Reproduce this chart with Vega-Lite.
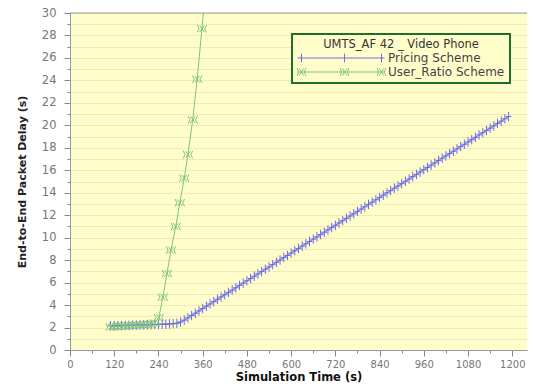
{
  "$schema": "https://vega.github.io/schema/vega-lite/v6.json",
  "width": 457,
  "height": 337,
  "autosize": "none",
  "padding": {"left": 70, "top": 13, "right": 6, "bottom": 37},
  "background": "white",
  "config": {"view": {"fill": "#FFFECB", "stroke": null}, "font": "DejaVu Sans"},
  "data": {"values": [
    {"t":110,"d":2.15,"s":"Pricing Scheme"},{"t":120,"d":2.16,"s":"Pricing Scheme"},{"t":130,"d":2.17,"s":"Pricing Scheme"},{"t":140,"d":2.18,"s":"Pricing Scheme"},{"t":150,"d":2.19,"s":"Pricing Scheme"},{"t":160,"d":2.2,"s":"Pricing Scheme"},{"t":170,"d":2.21,"s":"Pricing Scheme"},{"t":180,"d":2.22,"s":"Pricing Scheme"},{"t":190,"d":2.23,"s":"Pricing Scheme"},{"t":200,"d":2.24,"s":"Pricing Scheme"},{"t":210,"d":2.25,"s":"Pricing Scheme"},{"t":220,"d":2.26,"s":"Pricing Scheme"},{"t":230,"d":2.27,"s":"Pricing Scheme"},{"t":240,"d":2.28,"s":"Pricing Scheme"},{"t":250,"d":2.29,"s":"Pricing Scheme"},{"t":260,"d":2.3,"s":"Pricing Scheme"},{"t":270,"d":2.32,"s":"Pricing Scheme"},{"t":280,"d":2.34,"s":"Pricing Scheme"},{"t":290,"d":2.38,"s":"Pricing Scheme"},
    {"t":300,"d":2.5,"s":"Pricing Scheme"},{"t":310,"d":2.66,"s":"Pricing Scheme"},{"t":320,"d":2.86,"s":"Pricing Scheme"},{"t":330,"d":3.07,"s":"Pricing Scheme"},{"t":340,"d":3.27,"s":"Pricing Scheme"},{"t":350,"d":3.48,"s":"Pricing Scheme"},{"t":360,"d":3.69,"s":"Pricing Scheme"},{"t":370,"d":3.89,"s":"Pricing Scheme"},{"t":380,"d":4.1,"s":"Pricing Scheme"},{"t":390,"d":4.3,"s":"Pricing Scheme"},
    {"t":400,"d":4.51,"s":"Pricing Scheme"},{"t":410,"d":4.72,"s":"Pricing Scheme"},{"t":420,"d":4.92,"s":"Pricing Scheme"},{"t":430,"d":5.13,"s":"Pricing Scheme"},{"t":440,"d":5.33,"s":"Pricing Scheme"},{"t":450,"d":5.54,"s":"Pricing Scheme"},{"t":460,"d":5.75,"s":"Pricing Scheme"},{"t":470,"d":5.95,"s":"Pricing Scheme"},{"t":480,"d":6.16,"s":"Pricing Scheme"},{"t":490,"d":6.36,"s":"Pricing Scheme"},
    {"t":500,"d":6.57,"s":"Pricing Scheme"},{"t":510,"d":6.78,"s":"Pricing Scheme"},{"t":520,"d":6.98,"s":"Pricing Scheme"},{"t":530,"d":7.19,"s":"Pricing Scheme"},{"t":540,"d":7.39,"s":"Pricing Scheme"},{"t":550,"d":7.6,"s":"Pricing Scheme"},{"t":560,"d":7.81,"s":"Pricing Scheme"},{"t":570,"d":8.01,"s":"Pricing Scheme"},{"t":580,"d":8.22,"s":"Pricing Scheme"},{"t":590,"d":8.42,"s":"Pricing Scheme"},
    {"t":600,"d":8.63,"s":"Pricing Scheme"},{"t":610,"d":8.84,"s":"Pricing Scheme"},{"t":620,"d":9.04,"s":"Pricing Scheme"},{"t":630,"d":9.25,"s":"Pricing Scheme"},{"t":640,"d":9.45,"s":"Pricing Scheme"},{"t":650,"d":9.66,"s":"Pricing Scheme"},{"t":660,"d":9.87,"s":"Pricing Scheme"},{"t":670,"d":10.07,"s":"Pricing Scheme"},{"t":680,"d":10.28,"s":"Pricing Scheme"},{"t":690,"d":10.48,"s":"Pricing Scheme"},
    {"t":700,"d":10.69,"s":"Pricing Scheme"},{"t":710,"d":10.9,"s":"Pricing Scheme"},{"t":720,"d":11.1,"s":"Pricing Scheme"},{"t":730,"d":11.31,"s":"Pricing Scheme"},{"t":740,"d":11.51,"s":"Pricing Scheme"},{"t":750,"d":11.72,"s":"Pricing Scheme"},{"t":760,"d":11.93,"s":"Pricing Scheme"},{"t":770,"d":12.13,"s":"Pricing Scheme"},{"t":780,"d":12.34,"s":"Pricing Scheme"},{"t":790,"d":12.54,"s":"Pricing Scheme"},
    {"t":800,"d":12.75,"s":"Pricing Scheme"},{"t":810,"d":12.96,"s":"Pricing Scheme"},{"t":820,"d":13.16,"s":"Pricing Scheme"},{"t":830,"d":13.37,"s":"Pricing Scheme"},{"t":840,"d":13.57,"s":"Pricing Scheme"},{"t":850,"d":13.78,"s":"Pricing Scheme"},{"t":860,"d":13.99,"s":"Pricing Scheme"},{"t":870,"d":14.19,"s":"Pricing Scheme"},{"t":880,"d":14.4,"s":"Pricing Scheme"},{"t":890,"d":14.6,"s":"Pricing Scheme"},
    {"t":900,"d":14.81,"s":"Pricing Scheme"},{"t":910,"d":15.02,"s":"Pricing Scheme"},{"t":920,"d":15.22,"s":"Pricing Scheme"},{"t":930,"d":15.43,"s":"Pricing Scheme"},{"t":940,"d":15.63,"s":"Pricing Scheme"},{"t":950,"d":15.84,"s":"Pricing Scheme"},{"t":960,"d":16.05,"s":"Pricing Scheme"},{"t":970,"d":16.25,"s":"Pricing Scheme"},{"t":980,"d":16.46,"s":"Pricing Scheme"},{"t":990,"d":16.66,"s":"Pricing Scheme"},
    {"t":1000,"d":16.87,"s":"Pricing Scheme"},{"t":1010,"d":17.08,"s":"Pricing Scheme"},{"t":1020,"d":17.28,"s":"Pricing Scheme"},{"t":1030,"d":17.49,"s":"Pricing Scheme"},{"t":1040,"d":17.69,"s":"Pricing Scheme"},{"t":1050,"d":17.9,"s":"Pricing Scheme"},{"t":1060,"d":18.11,"s":"Pricing Scheme"},{"t":1070,"d":18.31,"s":"Pricing Scheme"},{"t":1080,"d":18.52,"s":"Pricing Scheme"},{"t":1090,"d":18.72,"s":"Pricing Scheme"},
    {"t":1100,"d":18.93,"s":"Pricing Scheme"},{"t":1110,"d":19.14,"s":"Pricing Scheme"},{"t":1120,"d":19.34,"s":"Pricing Scheme"},{"t":1130,"d":19.55,"s":"Pricing Scheme"},{"t":1140,"d":19.75,"s":"Pricing Scheme"},{"t":1150,"d":19.96,"s":"Pricing Scheme"},{"t":1160,"d":20.17,"s":"Pricing Scheme"},{"t":1170,"d":20.37,"s":"Pricing Scheme"},{"t":1180,"d":20.58,"s":"Pricing Scheme"},{"t":1190,"d":20.78,"s":"Pricing Scheme"},
    {"t":110,"d":2.05,"s":"User_Ratio Scheme"},{"t":120,"d":2.08,"s":"User_Ratio Scheme"},{"t":130,"d":2.1,"s":"User_Ratio Scheme"},{"t":140,"d":2.12,"s":"User_Ratio Scheme"},{"t":150,"d":2.14,"s":"User_Ratio Scheme"},{"t":160,"d":2.16,"s":"User_Ratio Scheme"},{"t":170,"d":2.18,"s":"User_Ratio Scheme"},{"t":180,"d":2.2,"s":"User_Ratio Scheme"},{"t":190,"d":2.22,"s":"User_Ratio Scheme"},{"t":200,"d":2.25,"s":"User_Ratio Scheme"},{"t":210,"d":2.28,"s":"User_Ratio Scheme"},{"t":220,"d":2.31,"s":"User_Ratio Scheme"},{"t":230,"d":2.4,"s":"User_Ratio Scheme"},
    {"t":241,"d":2.9,"s":"User_Ratio Scheme"},{"t":252,"d":4.7,"s":"User_Ratio Scheme"},{"t":263,"d":6.8,"s":"User_Ratio Scheme"},{"t":274,"d":8.9,"s":"User_Ratio Scheme"},{"t":287,"d":11.0,"s":"User_Ratio Scheme"},{"t":298,"d":13.1,"s":"User_Ratio Scheme"},{"t":310,"d":15.3,"s":"User_Ratio Scheme"},{"t":320,"d":17.4,"s":"User_Ratio Scheme"},{"t":333,"d":20.5,"s":"User_Ratio Scheme"},{"t":345,"d":24.1,"s":"User_Ratio Scheme"},{"t":358,"d":28.6,"s":"User_Ratio Scheme"},{"t":372,"d":33.5,"s":"User_Ratio Scheme"}
  ]},
  "encoding": {
    "x": {"field": "t", "type": "quantitative", "scale": {"domain": [0, 1240], "nice": false},
      "axis": {"title": "Simulation Time (s)", "format": "d",
        "values": [0,60,120,180,240,300,360,420,480,540,600,660,720,780,840,900,960,1020,1080,1140,1200],
        "labelExpr": "datum.value % 120 === 0 ? datum.label : ''",
        "tickSize": {"condition": {"test": "datum.value % 120 === 0", "value": 6}, "value": 3},
        "grid": false, "domainColor": "#9a9a9a", "tickColor": "#888888", "labelColor": "#777777",
        "labelFont": "DejaVu Sans", "labelFontSize": 10, "labelPadding": 3, "labelFlush": false,
        "titleFont": "DejaVu Sans", "titleFontSize": 11.5, "titleFontWeight": "bold", "titleColor": "#111111", "titlePadding": 2}},
    "y": {"field": "d", "type": "quantitative", "scale": {"domain": [0, 30], "nice": false},
      "axis": {"title": "End-to-End Packet Delay (s)",
        "values": [0,1,2,3,4,5,6,7,8,9,10,11,12,13,14,15,16,17,18,19,20,21,22,23,24,25,26,27,28,29,30],
        "labelExpr": "datum.value % 2 === 0 ? datum.label : ''",
        "tickSize": {"condition": {"test": "datum.value % 2 === 0", "value": 6}, "value": 3},
        "grid": true, "gridColor": "#EFEBB8", "gridWidth": 1,
        "domainColor": "#9a9a9a", "tickColor": "#888888", "labelColor": "#777777",
        "labelFont": "DejaVu Sans", "labelFontSize": 11.5, "labelPadding": 8,
        "titleFont": "DejaVu Sans", "titleFontSize": 11, "titleFontWeight": "bold", "titleColor": "#222222", "titlePadding": 14}},
    "color": {"field": "s", "type": "nominal",
       "scale": {"domain": ["Pricing Scheme", "User_Ratio Scheme"], "range": ["#6A6AE6", "#7CC482"]},
       "legend": {"title": "UMTS_AF 42 _ Video Phone", "orient": "none", "legendX": 222, "legendY": 21,
         "direction": "vertical", "titleAnchor": "middle", "titleFont": "DejaVu Sans", "titleFontSize": 11.5,
         "titleFontWeight": "normal", "titleColor": "#333333", "titlePadding": 1,
         "labelFont": "DejaVu Sans", "labelFontSize": 12, "labelColor": "#444444", "labelOffset": 78, "labelLimit": 0,
         "symbolSize": 144, "symbolStrokeWidth": 1, "rowPadding": 1, "padding": 5,
         "fillColor": "#FFFECB", "strokeColor": "#1F6E30",
         "encode": {
           "legend": {"update": {"strokeWidth": {"value": 2}}},
           "symbols": {"update": {
             "shape": {"signal": "datum.value === 'Pricing Scheme' ? 'M-1,0H13.5M-0.33,-0.72V0.72M6.83,-0.72V0.72M13,-0.72V0.72' : 'M-1,0H13.5M-0.68,-0.6L0.02,0.6M-0.68,0.6L0.02,-0.6M-1.03,-0.65L-0.83,0L-1.03,0.65M0.37,-0.65L0.17,0L0.37,0.65M6.48,-0.6L7.18,0.6M6.48,0.6L7.18,-0.6M6.13,-0.65L6.33,0L6.13,0.65M7.53,-0.65L7.33,0L7.53,0.65M12.65,-0.6L13.35,0.6M12.65,0.6L13.35,-0.6M12.3,-0.65L12.5,0L12.3,0.65M13.7,-0.65L13.5,0L13.7,0.65'"},
             "fill": {"value": "transparent"}}}
         }}}
  },
  "layer": [
    {"mark": {"type": "line", "clip": true, "strokeWidth": 1}},
    {"transform": [{"filter": "datum.s === 'Pricing Scheme'"}],
     "mark": {"type": "point", "clip": true, "filled": false, "strokeWidth": 1, "opacity": 1, "size": 90,
       "shape": "M-0.6,0H0.6M0,-1V1"}},
    {"transform": [{"filter": "datum.s === 'User_Ratio Scheme'"}],
     "mark": {"type": "point", "clip": true, "filled": false, "strokeWidth": 1, "opacity": 1, "size": 90,
       "shape": "M-0.5,-0.7L0.5,0.7M-0.5,0.7L0.5,-0.7M-1,-0.8L-0.6,0L-1,0.8M1,-0.8L0.6,0L1,0.8"}},
    {"data": {"values": [{"top": 30}]},
     "mark": {"type": "rule", "color": "#9a9a9a", "strokeWidth": 1},
     "encoding": {"x": null, "color": null, "y": {"field": "top", "type": "quantitative"}}}
  ]
}
